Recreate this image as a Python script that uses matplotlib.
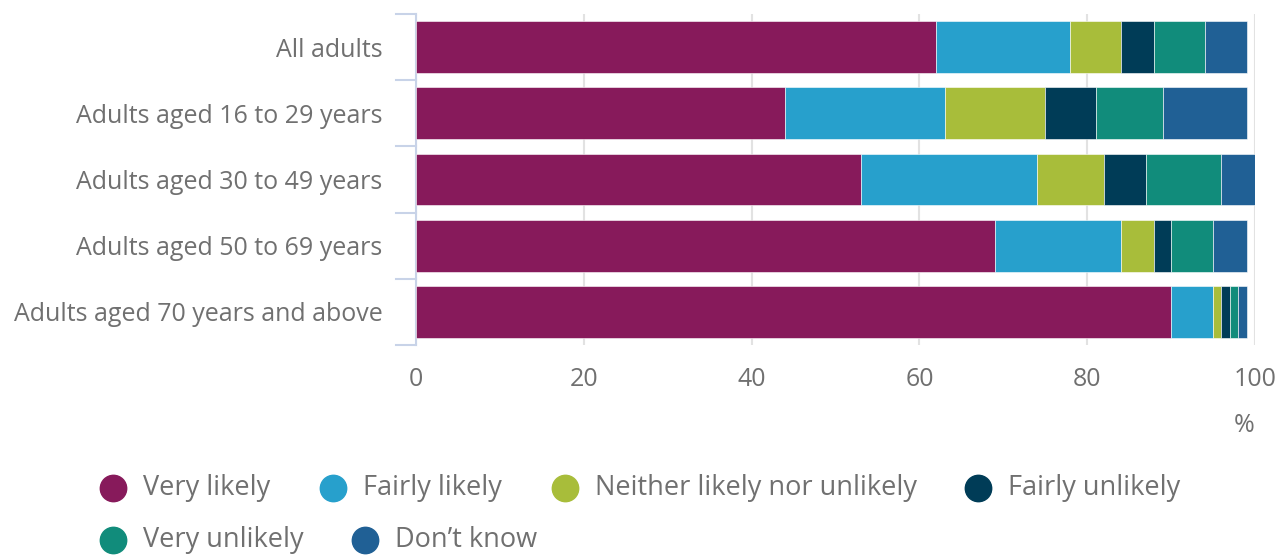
import numpy as np
import matplotlib.pyplot as plt
from matplotlib.lines import Line2D

# données (%)
groupes = ['All adults', 'Adults aged 16 to 29 years', 'Adults aged 30 to 49 years',
           'Adults aged 50 to 69 years', 'Adults aged 70 years and above']
tres_probable = [62, 44, 53, 69, 90]
assez_probable = [16, 19, 21, 15, 5]
ni_l_un = [6, 12, 8, 4, 1]
assez_improbable = [4, 6, 5, 2, 1]
tres_improbable = [6, 8, 9, 5, 1]
ne_sait_pas = [5, 10, 4, 4, 1]

series = [tres_probable, assez_probable, ni_l_un, assez_improbable, tres_improbable, ne_sait_pas]
noms = ['Very likely', 'Fairly likely', 'Neither likely nor unlikely', 'Fairly unlikely',
        'Very unlikely', 'Don\u2019t know']
couleurs = ['#871A5B', '#27A0CC', '#A8BD3A', '#003C57', '#118C7B', '#206095']
gris_texte = '#707070'

plt.rcParams['font.family'] = ['Open Sans', 'DejaVu Sans']

fig = plt.figure(figsize=(12.77, 5.55), dpi=100)
ax = fig.add_axes([416/1277, 1 - 345/555, (1255-416)/1277, (345-14)/555])

y = np.arange(len(groupes))
gauche = np.zeros(len(groupes))
for vals, c in zip(series, couleurs):
    ax.barh(y, vals, left=gauche, height=0.78, color=c, edgecolor='white', linewidth=0.4, zorder=3)
    gauche += np.array(vals)

ax.set_xlim(0, 100)
ax.set_ylim(len(groupes) - 0.5, -0.5)
ax.set_xticks(np.arange(0, 101, 20))
ax.set_yticks(y)
ax.set_yticklabels(groupes)
ax.grid(axis='x', color='#e2e2e2', linewidth=1.5, zorder=0)
ax.tick_params(axis='x', length=0, pad=16, labelsize=18, labelcolor=gris_texte)
ax.tick_params(axis='y', length=0, pad=24, labelsize=18, labelcolor=gris_texte)
for s in ['top', 'right', 'bottom']:
    ax.spines[s].set_visible(False)
ax.spines['left'].set_color('#c8d3e8')
ax.spines['left'].set_linewidth(1.5)
# petits traits entre les catégories
for b in np.arange(-0.5, len(groupes), 1):
    ax.plot([-0.024, 0], [b, b], transform=ax.get_yaxis_transform(), color='#c8d3e8',
            linewidth=1.5, clip_on=False)

fig.text(1244/1277, 1 - 425/555, '%', ha='center', va='center', fontsize=18, color=gris_texte)

# légende à la main (disposition en flux)
pos = [(113, 488), (333, 488), (565, 488), (978, 488), (113, 540), (365, 540)]
for (px, py), nom, c in zip(pos, noms, couleurs):
    fig.add_artist(Line2D([px/1277], [1 - py/555], marker='o', markersize=19, color=c,
                          linestyle='none', transform=fig.transFigure))
    fig.text((px + 30)/1277, 1 - py/555, nom, ha='left', va='center', fontsize=19.5, color=gris_texte)

fig.savefig('out.png', dpi=100)
